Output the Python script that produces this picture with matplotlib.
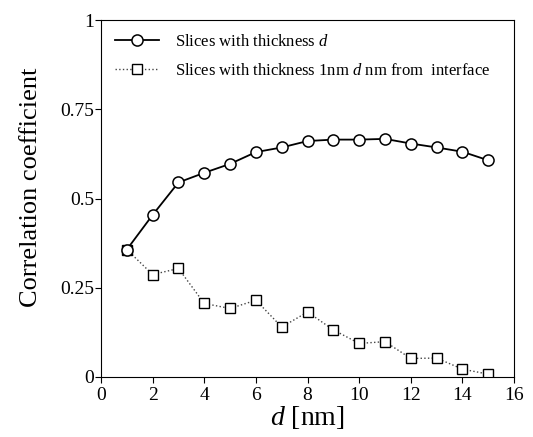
import numpy as np
import matplotlib
matplotlib.use("Agg")
import matplotlib.pyplot as plt

plt.rcParams['font.family'] = ['Liberation Serif', 'DejaVu Serif']
plt.rcParams['mathtext.fontset'] = 'custom'
plt.rcParams['mathtext.it'] = 'Liberation Serif:italic'
plt.rcParams['mathtext.rm'] = 'Liberation Serif'

# Data
d = np.arange(1, 16)
corr_thick = [0.357, 0.454, 0.545, 0.572, 0.597, 0.630, 0.643, 0.661,
              0.665, 0.665, 0.667, 0.654, 0.643, 0.631, 0.607]
corr_slice = [0.357, 0.287, 0.304, 0.206, 0.192, 0.215, 0.140, 0.182,
              0.132, 0.094, 0.099, 0.052, 0.053, 0.022, 0.008]

yticks = [0, 0.25, 0.5, 0.75, 1]
ytick_labels = ['0', '0.25', '0.5', '0.75', '1']

fig = plt.figure(figsize=(5.33, 4.37), dpi=100)
ax = fig.add_axes([0.1895, 0.1373, 0.775, 0.8169])

ax.plot(d, corr_thick, color='black', lw=1.3, marker='o', ms=8,
        mfc='white', mec='black', mew=1.1,
        label='Slices with thickness $d$', zorder=3)
ax.plot(d, corr_slice, color='#444444', lw=1.0, ls=':', marker='s', ms=7,
        mfc='white', mec='black', mew=1.0,
        label='Slices with thickness 1nm $d$ nm from  interface', zorder=2)

ax.set_xlim(0, 16)
ax.set_ylim(0, 1)
ax.set_xticks(range(0, 17, 2))
ax.set_yticks(yticks)
ax.set_yticklabels(ytick_labels)
ax.tick_params(axis='x', direction='out', length=4, labelsize=14, pad=3)
ax.tick_params(axis='y', direction='out', length=4, labelsize=14, pad=1)

ax.set_xlabel('$d$ [nm]', fontsize=20, labelpad=0)
ax.set_ylabel('Correlation coefficient', fontsize=19)
ax.yaxis.set_label_coords(-0.143, 0.53)

ax.legend(loc='upper left', frameon=False, fontsize=12, handlelength=2.6,
          borderaxespad=0.45, labelspacing=0.75, handletextpad=1.0)

fig.savefig('out.png', dpi=100)
